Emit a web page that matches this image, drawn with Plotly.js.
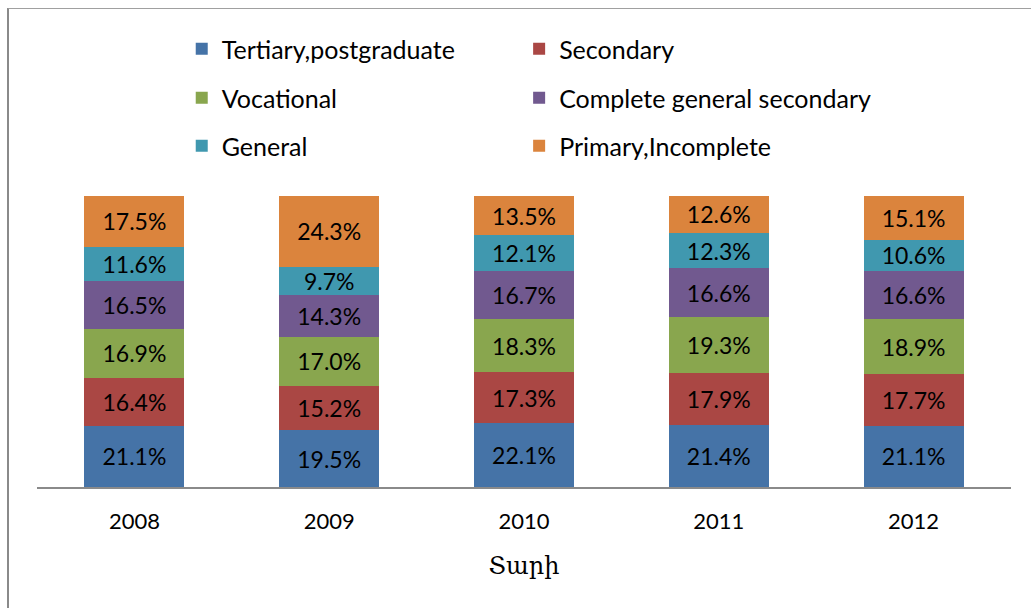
<!DOCTYPE html>
<html>
<head>
<meta charset="utf-8">
<script src="https://cdn.plot.ly/plotly-3.0.1.min.js"></script>
<style>
  html, body { margin: 0; padding: 0; background: #fff; }
  #wrap { position: relative; width: 1031px; height: 608px; overflow: hidden; }
  #chart { position: absolute; left: 0; top: 0; width: 1031px; height: 608px; }
  #frame { position: absolute; left: 7px; top: 8px; width: 1100px; height: 700px;
           border-left: 2px solid #8a8a8a; border-top: 1px solid #a0a0a0; pointer-events: none; }
</style>
</head>
<body>
<div id="wrap"><div id="chart"></div><div id="frame"></div></div>
<script>
const years = ['2008', '2009', '2010', '2011', '2012'];
const seriesNames = ['Tertiary,postgraduate', 'Secondary', 'Vocational', 'Complete general secondary', 'General', 'Primary,Incomplete'];
const tertiary   = [21.1, 19.5, 22.1, 21.4, 21.1];
const secondary  = [16.4, 15.2, 17.3, 17.9, 17.7];
const vocational = [16.9, 17.0, 18.3, 19.3, 18.9];
const complete   = [16.5, 14.3, 16.7, 16.6, 16.6];
const general    = [11.6, 9.7, 12.1, 12.3, 10.6];
const primary    = [17.5, 24.3, 13.5, 12.6, 15.1];
const colors = ['#4573A7', '#AA4744', '#89A64E', '#71598F', '#4098AF', '#DB843D'];
const xTitle = 'Տարի';

const allSeries = [tertiary, secondary, vocational, complete, general, primary];
const legendIds = ['legend', 'legend2', 'legend3', 'legend4', 'legend5', 'legend6'];
const FONT = 'Lato, "Open Sans", sans-serif';

const traces = allSeries.map((vals, i) => ({
  type: 'bar',
  name: seriesNames[i],
  x: years,
  y: vals,
  marker: { color: colors[i], line: { width: 0 } },
  text: vals.map(v => v.toFixed(1) + '%'),
  textposition: 'inside',
  insidetextanchor: 'middle',
  textangle: 0,
  textfont: { family: FONT, size: 23, color: '#000' },
  hoverinfo: 'name+y',
  legend: legendIds[i]
}));

const legendBase = {
  orientation: 'h',
  xref: 'paper', yref: 'paper',
  xanchor: 'left', yanchor: 'middle',
  font: { family: FONT, size: 25, color: '#000' },
  bgcolor: 'rgba(0,0,0,0)'
};
const py = v => (487 - v) / 291;
const colX = [0.1486, 0.495];
const rowY = [49, 98, 146];

const layout = {
  width: 1031, height: 608,
  margin: { l: 37, r: 20, t: 196, b: 121 },
  paper_bgcolor: '#fff', plot_bgcolor: '#fff',
  barmode: 'stack',
  barnorm: 'percent',
  bargap: 0.487,
  showlegend: true,
  uniformtext: { mode: 'show', minsize: 23 },
  xaxis: {
    type: 'category',
    showline: true, linecolor: '#8a8a8a', linewidth: 2,
    ticks: '', showgrid: false, zeroline: false,
    ticklabelstandoff: 14,
    tickfont: { family: FONT, size: 22, color: '#000' },
    title: { text: xTitle, font: { family: '"DejaVu Serif", serif', size: 24, color: '#000' }, standoff: 24 }
  },
  yaxis: {
    range: [0, 100], visible: false, showgrid: false, zeroline: false, fixedrange: true
  },
  font: { family: FONT, color: '#000' }
};
legendIds.forEach((id, i) => {
  layout[id] = Object.assign({}, legendBase, { x: colX[i % 2], y: py(rowY[Math.floor(i / 2)]) });
});

Plotly.newPlot('chart', traces, layout, { displayModeBar: false, staticPlot: true });
</script>
</body>
</html>
